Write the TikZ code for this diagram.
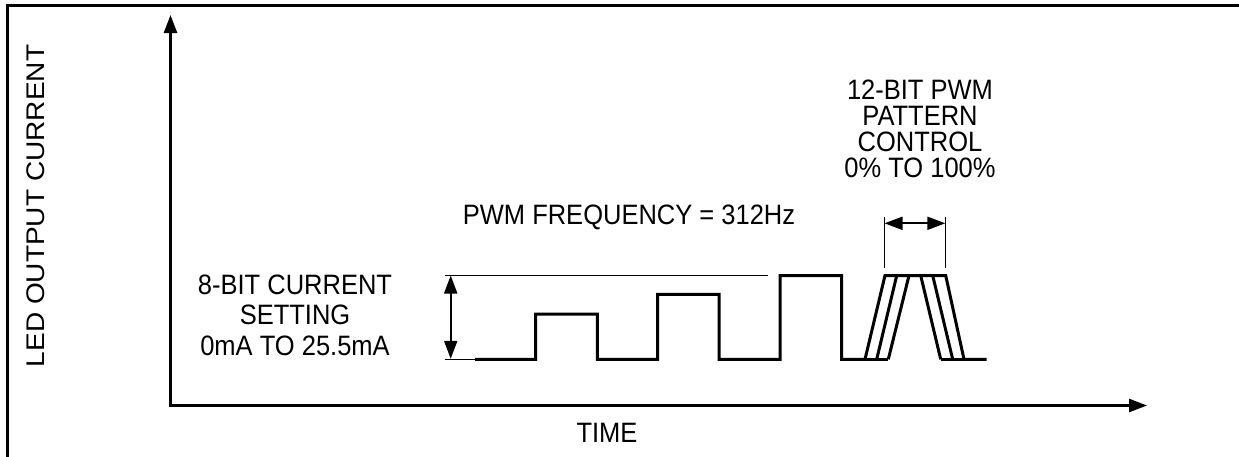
\documentclass[tikz,border=0pt]{standalone}
\usepackage{fontspec}
\setmainfont{Liberation Sans}
\usetikzlibrary{arrows.meta}
\newcommand{\vs}[1]{\scalebox{1}[1.1]{#1}}
\begin{document}
\begin{tikzpicture}[x=1pt,y=-1pt,
  lbl/.style={inner sep=0pt,anchor=base,font=\fontsize{25.5}{30}\selectfont},
  axis/.style={line width=2.6pt,-{Triangle[length=18pt,width=13pt]}},
  wave/.style={line width=3pt,line join=miter},
  thin/.style={line width=1pt},
  dim/.style={line width=2pt,{Triangle[length=18pt,width=13pt]}-{Triangle[length=18pt,width=13pt]}}]
\useasboundingbox (0,0) rectangle (1239,456);
% frame
\draw[line width=2.2pt] (7.5,460) -- (7.5,5.5) -- (1245,5.5);
% axes
\coordinate (o) at (170.5,405.5);
\coordinate (ytip) at (170.5,15);
\coordinate (xtip) at (1147,405.5);
\draw[axis] (o) -- (ytip);
\draw[axis] ([xshift=-1.3pt]o) -- (xtip);
% labels
\node[lbl,rotate=90] (ylab) at (44.5,206) {\scalebox{1.1}[1]{LED OUTPUT CURRENT}};
\node[lbl] (time) at (607,442) {\vs{TIME}};
\node[lbl] (freq) at (629,224) {\vs{PWM FREQUENCY = 312Hz}};
\node[lbl] (c1) at (295,294) {\vs{8-BIT CURRENT}};
\node[lbl] (c2) at (295,324.5) {\vs{SETTING}};
\node[lbl] (c3) at (295,355) {\vs{0mA TO 25.5mA}};
\node[lbl] (p1) at (920,99.5) {\vs{12-BIT PWM}};
\node[lbl] (p2) at (920,125.5) {\vs{PATTERN}};
\node[lbl] (p3) at (920,151.5) {\vs{CONTROL}};
\node[lbl] (p4) at (920,177.5) {\vs{0\% TO 100\%}};
% reference lines
\coordinate (rt0) at (445,275);
\coordinate (rt1) at (768,275);
\coordinate (rb0) at (445,359.3);
\coordinate (rb1) at (476,359.3);
\draw[thin] (rt0) -- (rt1);
\draw[thin] (rb0) -- (rb1);
\coordinate (d0) at (450.7,275.5);
\coordinate (d1) at (450.7,358.8);
\draw[dim] (d0) -- (d1);
% waveform
\draw[wave] (475,359.3) -- (535.7,359.3) -- (535.7,314) -- (597.3,314) -- (597.3,359.3)
  -- (657.7,359.3) -- (657.7,294.3) -- (719,294.3) -- (719,359.3)
  -- (780,359.3) -- (780,275.5) -- (841.7,275.5) -- (841.7,359.3)
  -- (865,359.3) -- (885,275.5) -- (945.7,275.5) -- (964,359.3) -- (986.7,359.3);
\draw[wave] (865,359.3) -- (888.3,359.3);
\draw[wave] (940.7,359.3) -- (964,359.3);
\draw[wave] (876.7,359.3) -- (896.7,275.5);
\draw[wave] (888.3,359.3) -- (909,275.5);
\draw[wave] (920.7,275.5) -- (940.7,359.3);
\draw[wave] (932.7,275.5) -- (952.7,359.3);
% pattern dimension
\coordinate (e0) at (884.5,216.5);
\coordinate (e1) at (884.5,268);
\coordinate (f0) at (945.3,216.5);
\coordinate (f1) at (945.3,268);
\draw[thin] (e0) -- (e1);
\draw[thin] (f0) -- (f1);
\coordinate (g0) at (884.5,223.3);
\coordinate (g1) at (945.3,223.3);
\draw[dim] (g0) -- (g1);
\end{tikzpicture}
\end{document}
